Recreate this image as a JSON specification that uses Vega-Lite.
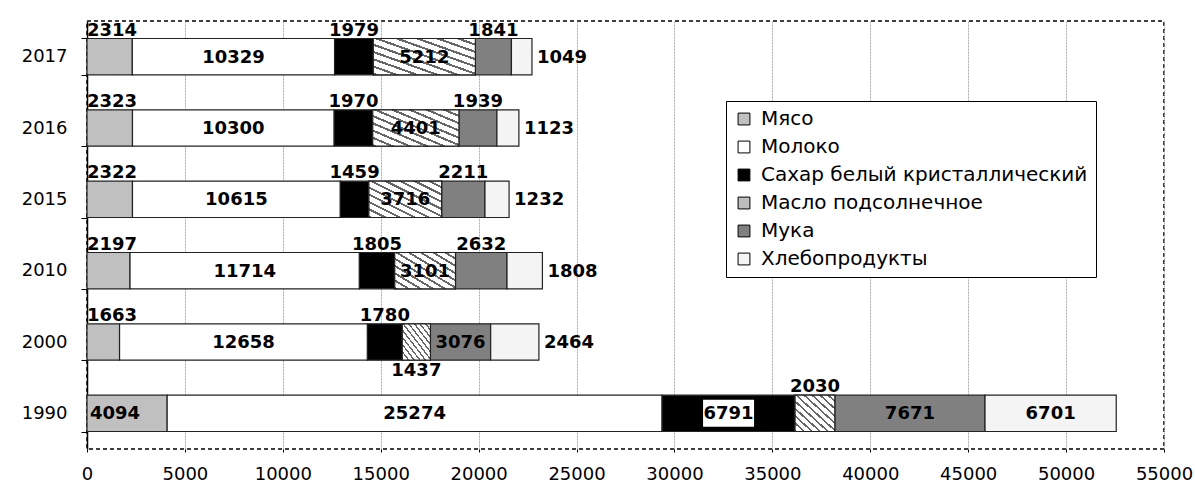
{
  "$schema": "https://vega.github.io/schema/vega-lite/v6.json",
  "width": 1077,
  "height": 428,
  "autosize": {"type": "none"},
  "padding": {"left": 87, "top": 21, "right": 31, "bottom": 34},
  "background": "white",
  "config": {
    "view": {"stroke": "#000", "strokeDash": [4, 3], "strokeWidth": 1.5},
    "font": "DejaVu Sans",
    "axis": {"labelFont": "DejaVu Sans", "labelColor": "#000"},
    "legend": {"labelFont": "DejaVu Sans"}
  },
  "data": {
    "values": [
      {"year": 1990, "product": "Мясо", "value": 4094},
      {"year": 1990, "product": "Молоко", "value": 25274},
      {"year": 1990, "product": "Сахар белый кристаллический", "value": 6791},
      {"year": 1990, "product": "Масло подсолнечное", "value": 2030},
      {"year": 1990, "product": "Мука", "value": 7671},
      {"year": 1990, "product": "Хлебопродукты", "value": 6701},
      {"year": 2000, "product": "Мясо", "value": 1663},
      {"year": 2000, "product": "Молоко", "value": 12658},
      {"year": 2000, "product": "Сахар белый кристаллический", "value": 1780},
      {"year": 2000, "product": "Масло подсолнечное", "value": 1437},
      {"year": 2000, "product": "Мука", "value": 3076},
      {"year": 2000, "product": "Хлебопродукты", "value": 2464},
      {"year": 2010, "product": "Мясо", "value": 2197},
      {"year": 2010, "product": "Молоко", "value": 11714},
      {"year": 2010, "product": "Сахар белый кристаллический", "value": 1805},
      {"year": 2010, "product": "Масло подсолнечное", "value": 3101},
      {"year": 2010, "product": "Мука", "value": 2632},
      {"year": 2010, "product": "Хлебопродукты", "value": 1808},
      {"year": 2015, "product": "Мясо", "value": 2322},
      {"year": 2015, "product": "Молоко", "value": 10615},
      {"year": 2015, "product": "Сахар белый кристаллический", "value": 1459},
      {"year": 2015, "product": "Масло подсолнечное", "value": 3716},
      {"year": 2015, "product": "Мука", "value": 2211},
      {"year": 2015, "product": "Хлебопродукты", "value": 1232},
      {"year": 2016, "product": "Мясо", "value": 2323},
      {"year": 2016, "product": "Молоко", "value": 10300},
      {"year": 2016, "product": "Сахар белый кристаллический", "value": 1970},
      {"year": 2016, "product": "Масло подсолнечное", "value": 4401},
      {"year": 2016, "product": "Мука", "value": 1939},
      {"year": 2016, "product": "Хлебопродукты", "value": 1123},
      {"year": 2017, "product": "Мясо", "value": 2314},
      {"year": 2017, "product": "Молоко", "value": 10329},
      {"year": 2017, "product": "Сахар белый кристаллический", "value": 1979},
      {"year": 2017, "product": "Масло подсолнечное", "value": 5212},
      {"year": 2017, "product": "Мука", "value": 1841},
      {"year": 2017, "product": "Хлебопродукты", "value": 1049}
    ]
  },
  "transform": [
    {"stack": "value", "groupby": ["year"], "as": ["x0", "x1"]},
    {"calculate": "(datum.x0 + datum.x1) / 2", "as": "mid"}
  ],
  "encoding": {
    "y": {
      "field": "year",
      "type": "ordinal",
      "sort": "descending",
      "scale": {"paddingInner": 0.49, "paddingOuter": 0.245},
      "axis": {
        "title": null,
        "labelFontSize": 18,
        "tickBand": "extent",
        "tickSize": 6,
        "tickColor": "#000",
        "domainColor": "#000",
        "domainWidth": 1.5,
        "labelPadding": 14,
        "grid": false
      }
    }
  },
  "layer": [
    {
      "mark": {"type": "bar", "stroke": "#222", "strokeWidth": 1.2},
      "encoding": {
        "x": {
          "field": "x0",
          "type": "quantitative",
          "scale": {"domain": [0, 55000], "nice": false},
          "axis": {
            "title": null,
            "values": [0, 5000, 10000, 15000, 20000, 25000, 30000, 35000, 40000, 45000, 50000, 55000],
            "format": "d",
            "labelFontSize": 18,
            "domain": false,
            "tickSize": 3,
            "tickColor": "#000",
            "labelPadding": 13,
            "grid": true,
            "gridColor": "#aaa",
            "gridDash": [2, 1],
            "labelFlush": false
          }
        },
        "x2": {"field": "x1"},
        "fill": {
          "field": "product",
          "type": "nominal",
          "scale": {
            "domain": ["Мясо", "Молоко", "Сахар белый кристаллический", "Масло подсолнечное", "Мука", "Хлебопродукты"],
            "range": ["#c0c0c0", "#ffffff", "#000000", "#bdbdbd", "#808080", "#f4f4f4"]
          },
          "legend": {
            "title": null,
            "orient": "none",
            "legendX": 639,
            "legendY": 80,
            "fillColor": "white",
            "strokeColor": "#000",
            "padding": 8,
            "symbolType": "square",
            "symbolSize": 140,
            "symbolStrokeColor": "#000",
            "symbolStrokeWidth": 1,
            "labelFontSize": 20,
            "labelColor": "#000",
            "labelOffset": 7,
            "rowPadding": 8,
            "labelLimit": 500,
            "symbolOpacity": 1
          }
        }
      }
    },
    {
      "transform": [{"filter": "datum.product === 'Масло подсолнечное'"}],
      "mark": {
        "type": "bar",
        "stroke": "#222",
        "strokeWidth": 1.2,
        "fill": {
          "gradient": "linear",
          "x1": 0, "y1": 1, "x2": 1, "y2": 0,
          "stops": [
            {"offset": 0, "color": "#666"}, {"offset": 0.03, "color": "#666"}, {"offset": 0.03, "color": "#fff"}, {"offset": 0.1, "color": "#fff"},
            {"offset": 0.1, "color": "#666"}, {"offset": 0.13, "color": "#666"}, {"offset": 0.13, "color": "#fff"}, {"offset": 0.2, "color": "#fff"},
            {"offset": 0.2, "color": "#666"}, {"offset": 0.23, "color": "#666"}, {"offset": 0.23, "color": "#fff"}, {"offset": 0.3, "color": "#fff"},
            {"offset": 0.3, "color": "#666"}, {"offset": 0.33, "color": "#666"}, {"offset": 0.33, "color": "#fff"}, {"offset": 0.4, "color": "#fff"},
            {"offset": 0.4, "color": "#666"}, {"offset": 0.43, "color": "#666"}, {"offset": 0.43, "color": "#fff"}, {"offset": 0.5, "color": "#fff"},
            {"offset": 0.5, "color": "#666"}, {"offset": 0.53, "color": "#666"}, {"offset": 0.53, "color": "#fff"}, {"offset": 0.6, "color": "#fff"},
            {"offset": 0.6, "color": "#666"}, {"offset": 0.63, "color": "#666"}, {"offset": 0.63, "color": "#fff"}, {"offset": 0.7, "color": "#fff"},
            {"offset": 0.7, "color": "#666"}, {"offset": 0.73, "color": "#666"}, {"offset": 0.73, "color": "#fff"}, {"offset": 0.8, "color": "#fff"},
            {"offset": 0.8, "color": "#666"}, {"offset": 0.83, "color": "#666"}, {"offset": 0.83, "color": "#fff"}, {"offset": 0.9, "color": "#fff"},
            {"offset": 0.9, "color": "#666"}, {"offset": 0.93, "color": "#666"}, {"offset": 0.93, "color": "#fff"}, {"offset": 1, "color": "#fff"}
          ]
        }
      },
      "encoding": {
        "x": {"field": "x0", "type": "quantitative"},
        "x2": {"field": "x1"}
      }
    },
    {
      "transform": [{"filter": "datum.year === 1990 && datum.product === 'Сахар белый кристаллический'"}],
      "mark": {
        "type": "point",
        "shape": "M-1,-0.53L1,-0.53L1,0.53L-1,0.53Z",
        "size": 2601,
        "filled": true,
        "fill": "#fff",
        "opacity": 1,
        "strokeWidth": 0
      },
      "encoding": {"x": {"field": "mid", "type": "quantitative"}}
    },
    {
      "transform": [{"filter": "datum.product === 'Молоко' || (datum.product === 'Масло подсолнечное' && datum.year >= 2010) || (datum.product === 'Мука' && datum.year <= 2000) || (datum.year === 1990 && (datum.product === 'Хлебопродукты' || datum.product === 'Сахар белый кристаллический'))"}],
      "mark": {"type": "text", "font": "DejaVu Sans", "fontWeight": "bold", "fontSize": 18, "align": "center", "baseline": "middle", "dy": 1, "color": "#000"},
      "encoding": {"x": {"field": "mid", "type": "quantitative"}, "text": {"field": "value", "type": "quantitative", "format": "d"}}
    },
    {
      "transform": [{"filter": "datum.product === 'Мясо' && datum.year === 1990"}],
      "mark": {"type": "text", "font": "DejaVu Sans", "fontWeight": "bold", "fontSize": 18, "align": "left", "baseline": "middle", "dx": 3, "dy": 1, "color": "#000"},
      "encoding": {"x": {"field": "x0", "type": "quantitative"}, "text": {"field": "value", "type": "quantitative", "format": "d"}}
    },
    {
      "transform": [{"filter": "datum.product === 'Мясо' && datum.year > 1990"}],
      "mark": {"type": "text", "font": "DejaVu Sans", "fontWeight": "bold", "fontSize": 18, "align": "left", "baseline": "alphabetic", "dy": -21, "color": "#000"},
      "encoding": {"x": {"field": "x0", "type": "quantitative"}, "text": {"field": "value", "type": "quantitative", "format": "d"}}
    },
    {
      "transform": [{"filter": "(datum.product === 'Сахар белый кристаллический' && datum.year >= 2000) || (datum.product === 'Масло подсолнечное' && datum.year === 1990) || (datum.product === 'Мука' && datum.year >= 2010)"}],
      "mark": {"type": "text", "font": "DejaVu Sans", "fontWeight": "bold", "fontSize": 18, "align": "center", "baseline": "alphabetic", "dy": -21, "color": "#000"},
      "encoding": {"x": {"field": "mid", "type": "quantitative"}, "text": {"field": "value", "type": "quantitative", "format": "d"}}
    },
    {
      "transform": [{"filter": "datum.product === 'Масло подсолнечное' && datum.year === 2000"}],
      "mark": {"type": "text", "font": "DejaVu Sans", "fontWeight": "bold", "fontSize": 18, "align": "center", "baseline": "alphabetic", "dy": 34, "color": "#000"},
      "encoding": {"x": {"field": "mid", "type": "quantitative"}, "text": {"field": "value", "type": "quantitative", "format": "d"}}
    },
    {
      "transform": [{"filter": "datum.product === 'Хлебопродукты' && datum.year >= 2000"}],
      "mark": {"type": "text", "font": "DejaVu Sans", "fontWeight": "bold", "fontSize": 18, "align": "left", "baseline": "middle", "dx": 5, "dy": 1, "color": "#000"},
      "encoding": {"x": {"field": "x1", "type": "quantitative"}, "text": {"field": "value", "type": "quantitative", "format": "d"}}
    }
  ]
}
